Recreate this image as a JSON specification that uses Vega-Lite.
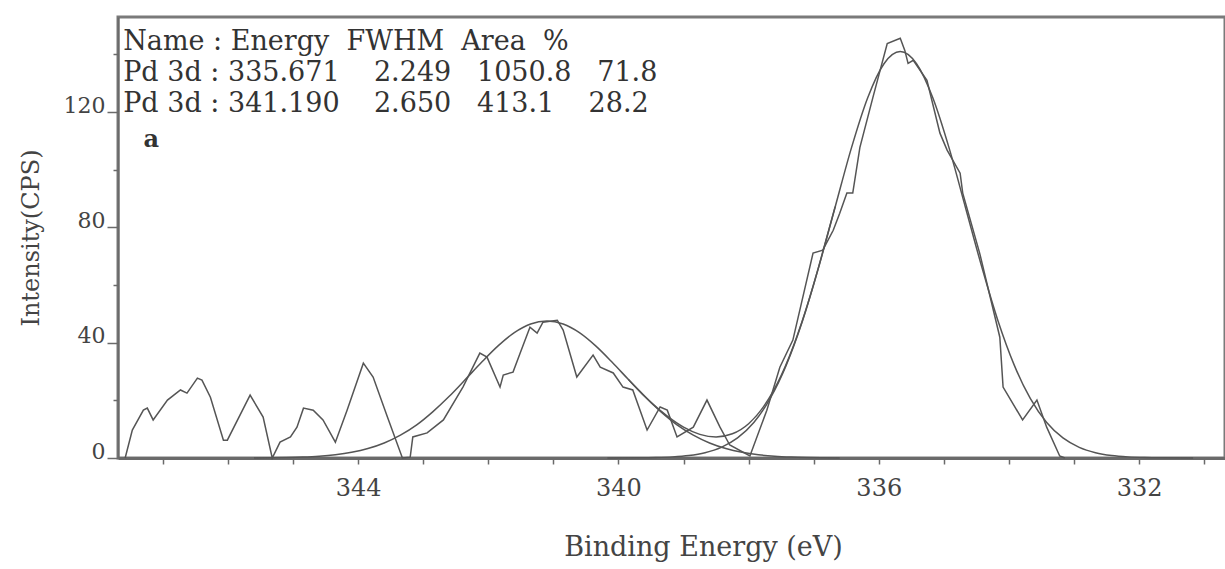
{
  "$schema": "https://vega.github.io/schema/vega-lite/v6.json",
  "width": 1107,
  "height": 441,
  "autosize": {"type": "none"},
  "padding": {"left": 118, "top": 17, "right": 0, "bottom": 111},
  "background": "white",
  "config": {
    "view": {"stroke": "#7a7a7a", "strokeWidth": 3},
    "font": "DejaVu Serif"
  },
  "datasets": {
    "spectrum": [
      {"series": "raw", "E": 347.58, "I": 0},
      {"series": "raw", "E": 347.47, "I": 9.7},
      {"series": "raw", "E": 347.30, "I": 16.6},
      {"series": "raw", "E": 347.24, "I": 17.3},
      {"series": "raw", "E": 347.15, "I": 13.2},
      {"series": "raw", "E": 346.93, "I": 20.1},
      {"series": "raw", "E": 346.73, "I": 23.6},
      {"series": "raw", "E": 346.63, "I": 22.5},
      {"series": "raw", "E": 346.47, "I": 27.7},
      {"series": "raw", "E": 346.40, "I": 27.0},
      {"series": "raw", "E": 346.27, "I": 21.1},
      {"series": "raw", "E": 346.07, "I": 6.2},
      {"series": "raw", "E": 346.01, "I": 6.2},
      {"series": "raw", "E": 345.66, "I": 21.8},
      {"series": "raw", "E": 345.46, "I": 14.2},
      {"series": "raw", "E": 345.32, "I": 0},
      {"series": "raw", "E": 345.20, "I": 5.5},
      {"series": "raw", "E": 345.04, "I": 7.3},
      {"series": "raw", "E": 344.94, "I": 10.7},
      {"series": "raw", "E": 344.84, "I": 17.3},
      {"series": "raw", "E": 344.69, "I": 16.6},
      {"series": "raw", "E": 344.54, "I": 13.2},
      {"series": "raw", "E": 344.35, "I": 5.5},
      {"series": "raw", "E": 344.17, "I": 16.6},
      {"series": "raw", "E": 343.92, "I": 32.9},
      {"series": "raw", "E": 343.77, "I": 28.1},
      {"series": "raw", "E": 343.55, "I": 14.2},
      {"series": "raw", "E": 343.32, "I": 0},
      {"series": "raw", "E": 343.20, "I": 0.3},
      {"series": "raw", "E": 343.16, "I": 7.3},
      {"series": "raw", "E": 342.94, "I": 8.7},
      {"series": "raw", "E": 342.69, "I": 13.2},
      {"series": "raw", "E": 342.39, "I": 24.6},
      {"series": "raw", "E": 342.13, "I": 36.4},
      {"series": "raw", "E": 342.02, "I": 35.0},
      {"series": "raw", "E": 341.82, "I": 24.6},
      {"series": "raw", "E": 341.77, "I": 28.8},
      {"series": "raw", "E": 341.62, "I": 29.8},
      {"series": "raw", "E": 341.51, "I": 36.4},
      {"series": "raw", "E": 341.36, "I": 45.4},
      {"series": "raw", "E": 341.25, "I": 43.3},
      {"series": "raw", "E": 341.16, "I": 47.1},
      {"series": "raw", "E": 340.94, "I": 47.8},
      {"series": "raw", "E": 340.85, "I": 44.4},
      {"series": "raw", "E": 340.64, "I": 28.1},
      {"series": "raw", "E": 340.39, "I": 35.7},
      {"series": "raw", "E": 340.28, "I": 31.5},
      {"series": "raw", "E": 340.08, "I": 29.5},
      {"series": "raw", "E": 339.93, "I": 24.6},
      {"series": "raw", "E": 339.78, "I": 23.6},
      {"series": "raw", "E": 339.56, "I": 9.7},
      {"series": "raw", "E": 339.36, "I": 17.7},
      {"series": "raw", "E": 339.25, "I": 16.6},
      {"series": "raw", "E": 339.10, "I": 7.3},
      {"series": "raw", "E": 338.85, "I": 10.7},
      {"series": "raw", "E": 338.64, "I": 20.1},
      {"series": "raw", "E": 338.44, "I": 10.7},
      {"series": "raw", "E": 338.29, "I": 4.5},
      {"series": "raw", "E": 337.98, "I": 0.7},
      {"series": "raw", "E": 337.72, "I": 16.6},
      {"series": "raw", "E": 337.52, "I": 31.5},
      {"series": "raw", "E": 337.32, "I": 40.9},
      {"series": "raw", "E": 337.01, "I": 71.1},
      {"series": "raw", "E": 336.86, "I": 72.1},
      {"series": "raw", "E": 336.70, "I": 79.0},
      {"series": "raw", "E": 336.60, "I": 84.9},
      {"series": "raw", "E": 336.49, "I": 91.9},
      {"series": "raw", "E": 336.40, "I": 91.9},
      {"series": "raw", "E": 336.29, "I": 107.8},
      {"series": "raw", "E": 336.09, "I": 125.1},
      {"series": "raw", "E": 335.87, "I": 143.8},
      {"series": "raw", "E": 335.67, "I": 145.6},
      {"series": "raw", "E": 335.60, "I": 141.4},
      {"series": "raw", "E": 335.55, "I": 136.9},
      {"series": "raw", "E": 335.47, "I": 138.0},
      {"series": "raw", "E": 335.26, "I": 131.0},
      {"series": "raw", "E": 335.06, "I": 112.7},
      {"series": "raw", "E": 334.95, "I": 106.8},
      {"series": "raw", "E": 334.75, "I": 98.8},
      {"series": "raw", "E": 334.71, "I": 91.9},
      {"series": "raw", "E": 334.45, "I": 71.1},
      {"series": "raw", "E": 334.14, "I": 41.9},
      {"series": "raw", "E": 334.09, "I": 24.6},
      {"series": "raw", "E": 333.79, "I": 13.2},
      {"series": "raw", "E": 333.57, "I": 20.1},
      {"series": "raw", "E": 333.42, "I": 10.7},
      {"series": "raw", "E": 333.22, "I": 0.7},
      {"series": "raw", "E": 333.14, "I": 0},

      {"series": "peak1", "E": 340.17, "I": 0.01},
      {"series": "peak1", "E": 339.67, "I": 0.06},
      {"series": "peak1", "E": 339.42, "I": 0.16},
      {"series": "peak1", "E": 339.17, "I": 0.39},
      {"series": "peak1", "E": 338.92, "I": 0.87},
      {"series": "peak1", "E": 338.67, "I": 1.85},
      {"series": "peak1", "E": 338.42, "I": 3.70},
      {"series": "peak1", "E": 338.17, "I": 6.96},
      {"series": "peak1", "E": 337.92, "I": 12.3},
      {"series": "peak1", "E": 337.67, "I": 20.6},
      {"series": "peak1", "E": 337.42, "I": 32.3},
      {"series": "peak1", "E": 337.17, "I": 47.7},
      {"series": "peak1", "E": 336.92, "I": 66.5},
      {"series": "peak1", "E": 336.67, "I": 87.1},
      {"series": "peak1", "E": 336.42, "I": 107.6},
      {"series": "peak1", "E": 336.17, "I": 125.0},
      {"series": "peak1", "E": 335.92, "I": 136.8},
      {"series": "peak1", "E": 335.67, "I": 141.0},
      {"series": "peak1", "E": 335.42, "I": 136.8},
      {"series": "peak1", "E": 335.17, "I": 125.0},
      {"series": "peak1", "E": 334.92, "I": 107.6},
      {"series": "peak1", "E": 334.67, "I": 87.1},
      {"series": "peak1", "E": 334.42, "I": 66.5},
      {"series": "peak1", "E": 334.17, "I": 47.7},
      {"series": "peak1", "E": 333.92, "I": 32.3},
      {"series": "peak1", "E": 333.67, "I": 20.6},
      {"series": "peak1", "E": 333.42, "I": 12.3},
      {"series": "peak1", "E": 333.17, "I": 6.96},
      {"series": "peak1", "E": 332.92, "I": 3.70},
      {"series": "peak1", "E": 332.67, "I": 1.85},
      {"series": "peak1", "E": 332.42, "I": 0.87},
      {"series": "peak1", "E": 332.17, "I": 0.39},
      {"series": "peak1", "E": 331.92, "I": 0.16},
      {"series": "peak1", "E": 331.67, "I": 0.06},
      {"series": "peak1", "E": 331.17, "I": 0.01},

      {"series": "peak2", "E": 345.60, "I": 0.04},
      {"series": "peak2", "E": 345.35, "I": 0.08},
      {"series": "peak2", "E": 345.10, "I": 0.17},
      {"series": "peak2", "E": 344.85, "I": 0.33},
      {"series": "peak2", "E": 344.60, "I": 0.62},
      {"series": "peak2", "E": 344.35, "I": 1.13},
      {"series": "peak2", "E": 344.10, "I": 1.97},
      {"series": "peak2", "E": 343.85, "I": 3.27},
      {"series": "peak2", "E": 343.60, "I": 5.21},
      {"series": "peak2", "E": 343.35, "I": 7.93},
      {"series": "peak2", "E": 343.10, "I": 11.5},
      {"series": "peak2", "E": 342.85, "I": 16.1},
      {"series": "peak2", "E": 342.60, "I": 21.4},
      {"series": "peak2", "E": 342.35, "I": 27.3},
      {"series": "peak2", "E": 342.10, "I": 33.3},
      {"series": "peak2", "E": 341.85, "I": 38.9},
      {"series": "peak2", "E": 341.60, "I": 43.5},
      {"series": "peak2", "E": 341.35, "I": 46.5},
      {"series": "peak2", "E": 341.10, "I": 47.5},
      {"series": "peak2", "E": 340.85, "I": 46.5},
      {"series": "peak2", "E": 340.60, "I": 43.5},
      {"series": "peak2", "E": 340.35, "I": 38.9},
      {"series": "peak2", "E": 340.10, "I": 33.3},
      {"series": "peak2", "E": 339.85, "I": 27.3},
      {"series": "peak2", "E": 339.60, "I": 21.4},
      {"series": "peak2", "E": 339.35, "I": 16.1},
      {"series": "peak2", "E": 339.10, "I": 11.5},
      {"series": "peak2", "E": 338.85, "I": 7.93},
      {"series": "peak2", "E": 338.60, "I": 5.21},
      {"series": "peak2", "E": 338.35, "I": 3.27},
      {"series": "peak2", "E": 338.10, "I": 1.97},
      {"series": "peak2", "E": 337.85, "I": 1.13},
      {"series": "peak2", "E": 337.60, "I": 0.62},
      {"series": "peak2", "E": 337.35, "I": 0.33},
      {"series": "peak2", "E": 337.10, "I": 0.17},
      {"series": "peak2", "E": 336.60, "I": 0.04},

      {"series": "envelope", "E": 339.85, "I": 27.3},
      {"series": "envelope", "E": 339.75, "I": 25.0},
      {"series": "envelope", "E": 339.50, "I": 19.3},
      {"series": "envelope", "E": 339.25, "I": 14.5},
      {"series": "envelope", "E": 339.00, "I": 10.7},
      {"series": "envelope", "E": 338.75, "I": 8.2},
      {"series": "envelope", "E": 338.50, "I": 7.3},
      {"series": "envelope", "E": 338.25, "I": 8.4},
      {"series": "envelope", "E": 338.00, "I": 11.9},
      {"series": "envelope", "E": 337.75, "I": 18.5},
      {"series": "envelope", "E": 337.50, "I": 28.6},
      {"series": "envelope", "E": 337.25, "I": 42.7},
      {"series": "envelope", "E": 337.00, "I": 60.3},
      {"series": "envelope", "E": 336.92, "I": 66.6},
      {"series": "envelope", "E": 336.67, "I": 87.2}
    ]
  },
  "layer": [
    {
      "data": {"name": "spectrum"},
      "transform": [{"filter": "datum.series === 'raw'"}],
      "mark": {"type": "line", "color": "#555555", "strokeWidth": 1.5, "interpolate": "linear"},
      "encoding": {
        "x": {
          "field": "E",
          "type": "quantitative",
          "scale": {"domain": [330.68, 347.69], "reverse": true, "nice": false, "zero": false},
          "axis": {
            "values": [331, 332, 333, 334, 335, 336, 337, 338, 339, 340, 341, 342, 343, 344, 345, 346, 347],
            "format": "d",
            "labelExpr": "datum.value % 4 === 0 ? datum.label : ''",
            "labelOverlap": false,
            "labelFlush": false,
            "grid": false,
            "domainColor": "#6a6a6a",
            "domainWidth": 3,
            "tickColor": "#6a6a6a",
            "tickWidth": 1.5,
            "tickSize": 6,
            "labelFont": "DejaVu Serif",
            "labelFontSize": 24,
            "labelColor": "#444444",
            "labelPadding": 12,
            "title": "Binding Energy (eV)",
            "titleFont": "DejaVu Serif",
            "titleFontSize": 27,
            "titleFontWeight": "normal",
            "titleColor": "#444444",
            "titlePadding": 34,
            "titleX": 585
          }
        },
        "y": {
          "field": "I",
          "type": "quantitative",
          "scale": {"domain": [0, 153], "nice": false, "zero": true},
          "axis": {
            "values": [0, 20, 40, 60, 80, 100, 120, 140],
            "format": "d",
            "labelExpr": "datum.value % 40 === 0 ? datum.label : ''",
            "labelOverlap": false,
            "labelFlush": false,
            "grid": false,
            "domainColor": "#6a6a6a",
            "domainWidth": 2,
            "tickColor": "#6a6a6a",
            "tickWidth": 1.5,
            "tickSize": {"condition": {"test": "datum.value % 40 === 0", "value": 11}, "value": 5},
            "labelFont": "DejaVu Serif",
            "labelFontSize": 22,
            "labelColor": "#444444",
            "labelBaseline": "alphabetic",
            "labelPadding": 2,
            "title": "Intensity(CPS)",
            "titleFont": "DejaVu Serif",
            "titleFontSize": 24,
            "titleFontWeight": "normal",
            "titleColor": "#444444",
            "titlePadding": 20
          }
        },
        "detail": {"field": "series"}
      }
    },
    {
      "data": {"name": "spectrum"},
      "transform": [{"filter": "datum.series !== 'raw'"}],
      "mark": {"type": "line", "color": "#555555", "strokeWidth": 1.5, "interpolate": "monotone"},
      "encoding": {
        "x": {"field": "E", "type": "quantitative"},
        "y": {"field": "I", "type": "quantitative"},
        "detail": {"field": "series"}
      }
    },
    {
      "data": {"values": [{"note": "header"}]},
      "mark": {"type": "text", "text": "Name : Energy\u00a0\u00a0FWHM\u00a0\u00a0Area\u00a0\u00a0%", "align": "left", "baseline": "alphabetic", "font": "DejaVu Serif", "fontSize": 27, "color": "#333333"},
      "encoding": {"x": {"datum": 347.61, "type": "quantitative"}, "y": {"datum": 141.6, "type": "quantitative"}}
    },
    {
      "data": {"values": [{"note": "row1"}]},
      "mark": {"type": "text", "text": "Pd 3d : 335.671\u00a0\u00a0\u00a0\u00a02.249\u00a0\u00a0\u00a01050.8\u00a0\u00a0\u00a071.8", "align": "left", "baseline": "alphabetic", "font": "DejaVu Serif", "fontSize": 27, "color": "#333333"},
      "encoding": {"x": {"datum": 347.61, "type": "quantitative"}, "y": {"datum": 130.8, "type": "quantitative"}}
    },
    {
      "data": {"values": [{"note": "row2"}]},
      "mark": {"type": "text", "text": "Pd 3d : 341.190\u00a0\u00a0\u00a0\u00a02.650\u00a0\u00a0\u00a0413.1\u00a0\u00a0\u00a0\u00a028.2", "align": "left", "baseline": "alphabetic", "font": "DejaVu Serif", "fontSize": 27, "color": "#333333"},
      "encoding": {"x": {"datum": 347.61, "type": "quantitative"}, "y": {"datum": 120.0, "type": "quantitative"}}
    },
    {
      "data": {"values": [{"note": "panel"}]},
      "mark": {"type": "text", "text": "a", "align": "left", "baseline": "alphabetic", "font": "DejaVu Serif", "fontSize": 24, "fontWeight": "bold", "color": "#333333"},
      "encoding": {"x": {"datum": 347.30, "type": "quantitative"}, "y": {"datum": 107.9, "type": "quantitative"}}
    }
  ]
}
